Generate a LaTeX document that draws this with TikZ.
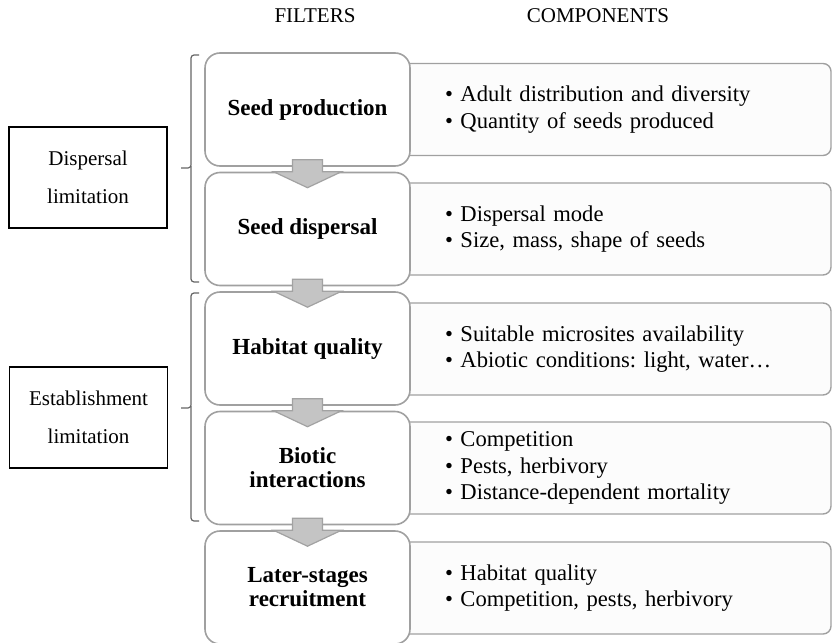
\documentclass[tikz,border=0pt]{standalone}
\usepackage{fontspec}
\setmainfont{Liberation Serif}
\usetikzlibrary{calc, positioning, backgrounds}

\definecolor{boxgray}{HTML}{A0A0A0}
\definecolor{compfill}{HTML}{FCFCFC}
\definecolor{arrowfill}{HTML}{C4C4C4}
\definecolor{arrowline}{HTML}{A2A2A2}

\tikzset{
  header/.style={anchor=base, font=\fontsize{10.5}{12}\selectfont},
  filterbox/.style={draw=boxgray, line width=0.8pt, fill=white, rounded corners=7.5pt,
    minimum width=102.5pt, minimum height=56.5pt, align=center,
    font=\fontsize{11.5}{12}\selectfont\bfseries},
  compbox/.style={draw=boxgray, line width=0.7pt, fill=compfill, rounded corners=4pt,
    minimum width=218pt, minimum height=46pt, inner xsep=25pt, text width=168pt,
    align=left, font=\fontsize{11.3}{13.2}\selectfont\frenchspacing},
  limitbox/.style={draw, line width=0.8pt, minimum width=79pt, minimum height=50.5pt,
    align=center, font=\fontsize{10.5}{19}\selectfont},
  blockarrow/.style={draw=arrowline, line width=0.6pt, fill=arrowfill},
  bracket/.style={draw=gray!80!black, line width=0.6pt, rounded corners=1.5pt}
}

\begin{document}
\begin{tikzpicture}[x=0.5pt,y=-0.5pt]
        \useasboundingbox (0,0) rectangle (833,642);

        % 1. Column headers
        \node[header] (hfilt) at (315,23) {FILTERS};
        \node[header] (hcomp) at (598,23) {COMPONENTS};

        % 2. Filters
        \node[filterbox] (f1) at (307.5,109.5) {Seed production};
        \node[filterbox] (f2) at (307.5,229) {Seed dispersal};
        \node[filterbox] (f3) at (307.5,348.5) {Habitat quality};
        \node[filterbox] (f4) at (307.5,468) {Biotic\\interactions};
        \node[filterbox] (f5) at (307.5,587.5) {Later-stages\\recruitment};

        % 3. Components (behind the filters)
        \begin{scope}[on background layer]
            \node[compbox] (c1) at (613,109.5) {\textbullet\ Adult distribution and diversity\\\textbullet\ Quantity of seeds produced};
            \node[compbox] (c2) at (613,229) {\textbullet\ Dispersal mode\\\textbullet\ Size, mass, shape of seeds};
            \node[compbox] (c3) at (613,349) {\textbullet\ Suitable microsites availability\\\textbullet\ Abiotic conditions: light, water…};
            \node[compbox] (c4) at (613,468) {\textbullet\ Competition\\\textbullet\ Pests, herbivory\\\textbullet\ Distance-dependent mortality};
            \node[compbox] (c5) at (613,588) {\textbullet\ Habitat quality\\\textbullet\ Competition, pests, herbivory};
        \end{scope}

        % 4. Block arrows between filters
        \foreach \a/\b in {f1/f2, f2/f3, f3/f4, f4/f5}
            \draw[blockarrow] ($(\a.south)+(-15,-7)$) -- ($(\a.south)+(15,-7)$)
                -- ($(\b.north)+(15,0)$) -- ($(\b.north)+(34,0)$) -- ($(\b.north)+(0,16)$)
                -- ($(\b.north)+(-34,0)$) -- ($(\b.north)+(-15,0)$) -- cycle;

        % 5. Limitation boxes
        \node[limitbox] (dl) at (88,177.5) {Dispersal\\limitation};
        \node[limitbox] (el) at (88.5,417.5) {Establishment\\limitation};

        % 6. Brackets
        \draw[bracket] (199,55) -- (191,55) -- (191,168) -- (181,168);
        \draw[bracket] (191,166) -- (191,282) -- (199,282);
        \draw[bracket] (199,293) -- (191,293) -- (191,408) -- (181,408);
        \draw[bracket] (191,406) -- (191,521) -- (199,521);
    \end{tikzpicture}
\end{document}
